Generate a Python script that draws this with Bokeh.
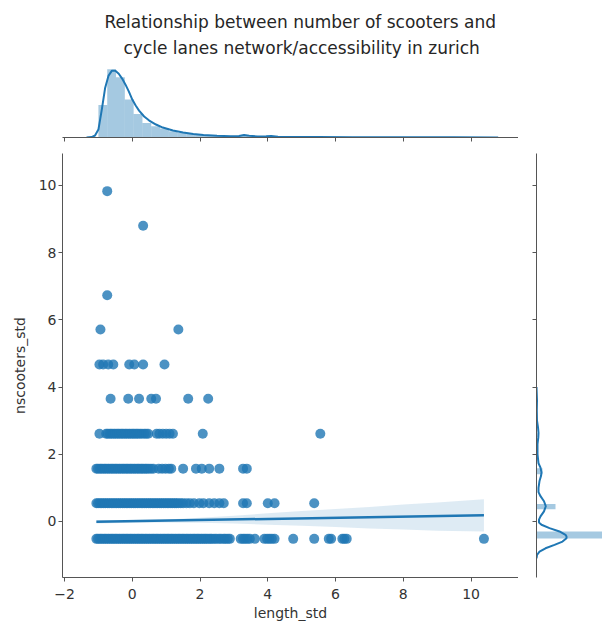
from bokeh.plotting import figure
from bokeh.layouts import column, row
from bokeh.models import Range1d, FixedTicker, Title, CustomJSTickFormatter
from bokeh.embed import file_html
from bokeh.resources import INLINE

# ---------------- data ----------------
title_lines = ["Relationship between number of scooters and",
               "cycle lanes network/accessibility in zurich"]
x_label = "length_std"
y_label = "nscooters_std"
x_ticks = [-2, 0, 2, 4, 6, 8, 10]
y_ticks = [0, 2, 4, 6, 8, 10]

# scatter points grouped by their (discrete) nscooters_std level
row_levels = [-0.52, 0.54, 1.57, 2.61, 3.65, 4.67, 5.71, 6.73, 8.80, 9.83]
row_x = [
    [-1.06, -1.01, -0.95, -0.90, -0.84, -0.79, -0.73, -0.68, -0.62, -0.57, -0.51, -0.46,
     -0.40, -0.35, -0.29, -0.24, -0.18, -0.13, -0.07, -0.02, 0.04, 0.09, 0.15, 0.20,
     0.26, 0.31, 0.37, 0.42, 0.48, 0.53, 0.59, 0.64, 0.70, 0.75, 0.81, 0.86, 0.92, 0.97,
     1.03, 1.08, 1.14, 1.19, 1.25, 1.30, 1.36, 1.41, 1.47, 1.52, 1.58, 1.63, 1.69, 1.74,
     1.80, 1.85, 1.91, 1.96, 2.02, 2.07, 2.13, 2.18, 2.24, 2.30, 2.35, 2.42, 2.48, 2.56,
     2.62, 2.70, 2.75, 2.82, 2.88, 3.20, 3.27, 3.33, 3.40, 3.47, 3.62, 3.90, 3.98, 4.05,
     4.12, 4.20, 4.75, 5.37, 5.80, 5.87, 6.20, 6.26, 6.33, 10.38],
    [-1.06, -1.01, -0.95, -0.90, -0.84, -0.79, -0.73, -0.68, -0.62, -0.57, -0.51, -0.46,
     -0.40, -0.35, -0.29, -0.24, -0.18, -0.13, -0.07, -0.02, 0.04, 0.09, 0.15, 0.20,
     0.26, 0.31, 0.37, 0.42, 0.48, 0.53, 0.59, 0.64, 0.70, 0.75, 0.81, 0.86, 0.92, 0.97,
     1.03, 1.08, 1.14, 1.19, 1.25, 1.30, 1.36, 1.43, 1.50, 1.60, 1.70, 1.82, 1.98, 2.10,
     2.27, 2.42, 2.57, 2.70, 3.27, 3.38, 4.00, 4.20, 5.37],
    [-1.06, -1.01, -0.95, -0.90, -0.84, -0.79, -0.73, -0.68, -0.62, -0.57, -0.51, -0.46,
     -0.40, -0.35, -0.29, -0.24, -0.18, -0.13, -0.07, -0.02, 0.04, 0.09, 0.15, 0.20,
     0.26, 0.31, 0.37, 0.42, 0.48, 0.55, 0.62, 0.78, 0.88, 0.98, 1.08, 1.15, 1.50, 1.88,
     2.05, 2.27, 2.57, 3.27, 3.38],
    [-0.97, -0.77, -0.72, -0.66, -0.61, -0.55, -0.50, -0.44, -0.39, -0.33, -0.28, -0.22,
     -0.17, -0.11, -0.06, 0.00, 0.05, 0.11, 0.16, 0.22, 0.28, 0.35, 0.41, 0.47, 0.72,
     0.80, 0.90, 1.00, 1.10, 1.20, 2.08, 5.55],
    [-0.64, -0.12, 0.20, 0.56, 0.70, 1.65, 2.24],
    [-0.97, -0.86, -0.71, -0.56, -0.09, 0.06, 0.32, 0.95],
    [-0.94, 1.36],
    [-0.74],
    [0.32],
    [-0.74],
]

# regression fit and its confidence band
fit_x = [-1.06, 10.38]
fit_y = [-0.01, 0.18]
band_x = [-1.06, 0.0, 1.0, 2.0, 3.0, 4.0, 5.0, 6.0, 7.0, 8.0, 9.0, 10.38]
band_lo = [-0.06, -0.04, -0.03, -0.04, -0.06, -0.10, -0.13, -0.17, -0.21, -0.24, -0.28, -0.30]
band_hi = [0.04, 0.04, 0.06, 0.11, 0.17, 0.24, 0.31, 0.37, 0.43, 0.50, 0.56, 0.66]

# top marginal: histogram of length_std (density) and its KDE
hist_x_left = [-1.00, -0.74, -0.48, -0.22, 0.04, 0.30, 0.56, 0.82, 1.08, 1.34, 1.60,
               1.86, 2.12, 2.38, 2.64, 2.90, 3.16, 3.42, 3.68, 3.94, 4.46, 4.72, 5.24,
               5.76, 6.02, 6.28, 10.18]
hist_x_dens = [0.29, 0.61, 0.54, 0.34, 0.21, 0.13, 0.10, 0.08, 0.055, 0.04, 0.032,
               0.025, 0.02, 0.016, 0.012, 0.009, 0.02, 0.009, 0.009, 0.012, 0.005,
               0.005, 0.005, 0.005, 0.005, 0.005, 0.004]
hist_x_width = 0.26
kde_x_pos = [-1.35, -1.2, -1.1, -1.0, -0.9, -0.8, -0.7, -0.6, -0.5, -0.4, -0.3, -0.2,
             -0.1, 0.0, 0.1, 0.2, 0.35, 0.5, 0.7, 0.9, 1.2, 1.5, 1.8, 2.1, 2.5, 2.9,
             3.15, 3.3, 3.45, 3.7, 3.95, 4.1, 4.3, 4.8, 5.5, 6.5, 8.0, 9.5, 10.8]
kde_x_dens = [0.0, 0.004, 0.018, 0.071, 0.25, 0.446, 0.554, 0.598, 0.598, 0.571, 0.527,
              0.473, 0.411, 0.339, 0.286, 0.241, 0.188, 0.152, 0.116, 0.089, 0.063,
              0.045, 0.031, 0.022, 0.016, 0.011, 0.013, 0.022, 0.016, 0.009, 0.011,
              0.013, 0.007, 0.005, 0.004, 0.003, 0.003, 0.002, 0.0]

# right marginal: histogram of nscooters_std (density) and its KDE
hist_y_lo = [-0.51, 0.36, 1.40, 2.45]
hist_y_hi = [-0.30, 0.52, 1.58, 2.63]
hist_y_dens = [1.70, 0.38, 0.12, 0.02]
kde_y_pos = [-1.1, -1.0, -0.9, -0.8, -0.7, -0.6, -0.5, -0.45, -0.4, -0.3, -0.2, -0.1,
             -0.03, 0.05, 0.15, 0.3, 0.45, 0.6, 0.75, 0.87, 1.0, 1.2, 1.35, 1.46, 1.6,
             1.73, 2.0, 2.3, 2.5, 2.63, 2.8, 3.0, 3.3, 3.6, 4.0]
kde_y_dens = [0.0, 0.01, 0.06, 0.18, 0.36, 0.52, 0.60, 0.60, 0.58, 0.46, 0.26, 0.10,
              0.05, 0.05, 0.08, 0.15, 0.186, 0.15, 0.08, 0.04, 0.04, 0.06, 0.09, 0.10,
              0.08, 0.04, 0.02, 0.02, 0.036, 0.04, 0.03, 0.01, 0.006, 0.01, 0.0]

# ---------------- style ----------------
BLUE = "#1f77b4"
AXIS_C = "#555555"
TEXT_C = "#333333"
FONT = "DejaVu Sans"

xs, ys = [], []
for lvl, xv in zip(row_levels, row_x):
    xs.extend(xv)
    ys.extend([lvl] * len(xv))

xr = Range1d(-2.06, 11.4)
yr = Range1d(-1.67, 10.95)


def style_axis(ax, ticks, labels=True):
    ax.ticker = FixedTicker(ticks=ticks)
    ax.axis_line_color = AXIS_C
    ax.axis_line_width = 1
    ax.major_tick_line_color = AXIS_C
    ax.major_tick_out = 4
    ax.major_tick_in = 0
    ax.minor_tick_line_color = None
    ax.major_label_text_font = FONT
    ax.major_label_text_font_size = "14px"
    ax.major_label_text_color = TEXT_C
    ax.axis_label_text_font = FONT
    ax.axis_label_text_font_size = "14px"
    ax.axis_label_text_font_style = "normal"
    ax.axis_label_text_color = TEXT_C
    if not labels:
        ax.formatter = CustomJSTickFormatter(code="return ''")
        ax.major_label_standoff = 0


def clean(fig):
    fig.outline_line_color = None
    fig.xgrid.visible = False
    fig.ygrid.visible = False
    fig.background_fill_color = "white"
    fig.border_fill_color = "white"


# main joint plot
p = figure(width=518, height=472, x_range=xr, y_range=yr,
           output_backend="svg", toolbar_location=None,
           min_border_left=62, min_border_right=0, min_border_top=0, min_border_bottom=48)
clean(p)
p.scatter(xs, ys, size=10, fill_color=BLUE, fill_alpha=0.8, line_color=None)
p.varea(x=band_x, y1=band_lo, y2=band_hi, fill_color=BLUE, fill_alpha=0.15)
p.line(fit_x, fit_y, line_color=BLUE, line_width=2.5)
style_axis(p.xaxis[0], x_ticks)
style_axis(p.yaxis[0], y_ticks)
p.xaxis.axis_label = x_label
p.yaxis.axis_label = y_label
p.xaxis.major_label_standoff = 7
p.xaxis.axis_label_standoff = 3
p.yaxis.major_label_standoff = 2
p.yaxis.axis_label_standoff = 8

# top marginal
pt = figure(width=518, height=153, x_range=xr, y_range=Range1d(0, 0.707),
            output_backend="svg", toolbar_location=None,
            min_border_left=62, min_border_right=0, min_border_top=58, min_border_bottom=16)
clean(pt)
pt.quad(left=hist_x_left, right=[v + hist_x_width for v in hist_x_left],
        bottom=0, top=hist_x_dens, fill_color=BLUE, fill_alpha=0.4, line_color=None)
pt.line(kde_x_pos, kde_x_dens, line_color=BLUE, line_width=2)
pt.yaxis.visible = False
style_axis(pt.xaxis[0], x_ticks, labels=False)
pt.add_layout(Title(text=title_lines[1], align="left", offset=61, standoff=2,
                    text_font=FONT, text_font_size="17px", text_font_style="normal",
                    text_color="#262626"), "above")
pt.add_layout(Title(text=title_lines[0], align="left", offset=42, standoff=5,
                    text_font=FONT, text_font_size="17px", text_font_style="normal",
                    text_color="#262626"), "above")

# right marginal
pr = figure(width=84, height=472, x_range=Range1d(0, 1.32), y_range=yr,
            output_backend="svg", toolbar_location=None,
            min_border_left=18, min_border_right=0, min_border_top=0, min_border_bottom=48)
clean(pr)
pr.quad(left=0, right=hist_y_dens, bottom=hist_y_lo, top=hist_y_hi,
        fill_color=BLUE, fill_alpha=0.4, line_color=None)
pr.line(kde_y_dens, kde_y_pos, line_color=BLUE, line_width=2)
pr.xaxis.visible = False
style_axis(pr.yaxis[0], y_ticks, labels=False)

layout = column(pt, row(p, pr))
open("out.html", "w").write(file_html(layout, INLINE))
